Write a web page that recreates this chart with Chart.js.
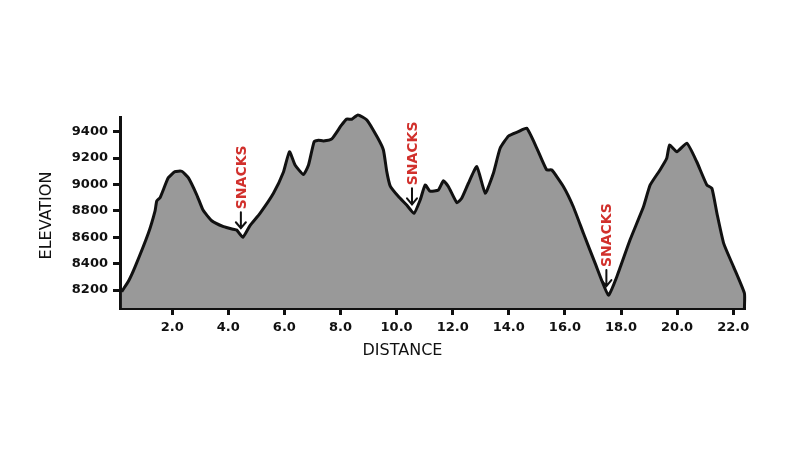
<!DOCTYPE html>
<html>
<head>
<meta charset="utf-8">
<script src="https://cdn.jsdelivr.net/npm/chart.js@4/dist/chart.umd.min.js"></script>
<style>
    body { margin: 0; background: #fff; }
    #wrap { width: 800px; height: 450px; }
</style>
</head>
<body>
<div id="wrap"><canvas id="profileChart" width="800" height="450"></canvas></div>
<script>
// Trail profile (distance in miles, elevation in feet)
const distance = [
    0.20, 0.45, 0.68, 1.15, 1.39, 1.45, 1.57, 1.86, 2.10, 2.34, 2.58, 2.88, 3.10, 3.41, 3.83, 4.18, 4.30, 4.52,
    4.78, 5.13, 5.61, 5.96, 6.18, 6.38, 6.68, 6.86, 7.06, 7.21, 7.39, 7.69, 8.02, 8.22, 8.40, 8.62, 8.94,
    9.32, 9.53, 9.65, 9.77, 10.06, 10.36, 10.62, 10.84, 11.02, 11.19, 11.49, 11.67, 11.85, 12.15, 12.32,
    12.56, 12.86, 13.16, 13.45, 13.69, 13.99, 14.34, 14.64, 15.00, 15.35, 15.53, 15.95, 16.30, 16.66,
    17.08, 17.55, 17.85, 18.32, 18.80, 19.04, 19.39, 19.63, 19.73, 19.99, 20.35, 20.70, 21.06, 21.24,
    21.42, 21.66, 22.01, 22.40, 22.40
];
const elevation = [
    8187, 8270, 8377, 8630, 8800, 8875, 8900, 9050, 9097, 9100, 9050, 8920, 8806, 8725, 8680, 8660, 8655, 8600,
    8690, 8781, 8933, 9090, 9248, 9147, 9075, 9147, 9324, 9335, 9330, 9345, 9445, 9495, 9494, 9527, 9489,
    9355, 9261, 9097, 8990, 8910, 8844, 8781, 8882, 8996, 8950, 8958, 9028, 8983, 8862, 8895,
    9009, 9135, 8933, 9085, 9274, 9367, 9400, 9426, 9274, 9110, 9110, 8983, 8831, 8630,
    8402, 8162, 8301, 8579, 8831, 8996, 9110, 9198, 9299, 9248, 9312, 9172, 8996, 8971,
    8781, 8554, 8377, 8175, 8064
];

const xTicks = [2, 4, 6, 8, 10, 12, 14, 16, 18, 20, 22];
const yTicks = [8200, 8400, 8600, 8800, 9000, 9200, 9400];

// Snack stops (bottom of each valley)
const snackDistance = [4.52, 10.62, 17.55];
const snackElevation = [8600, 8781, 8162];
const snackLabel = 'SNACKS';

const INK = '#111';
const RED = '#d1302c';

const points = distance.map((d, i) => ({ x: d, y: elevation[i] }));

// draws the SNACKS notes and the axis titles
const notesPlugin = {
    id: 'notes',
    afterDatasetsDraw(chart) {
        const { ctx, chartArea, scales } = chart;
        ctx.save();

        snackDistance.forEach((d, i) => {
            const px = scales.x.getPixelForValue(d) - 2;
            const py = scales.y.getPixelForValue(snackElevation[i]);
            const tip = py - 9;
            const tail = tip - 16;

            ctx.strokeStyle = INK;
            ctx.lineWidth = 2;
            ctx.lineCap = 'round';
            ctx.beginPath();
            ctx.moveTo(px, tail);
            ctx.lineTo(px, tip);
            ctx.moveTo(px - 5, tip - 6);
            ctx.lineTo(px, tip);
            ctx.lineTo(px + 5, tip - 6);
            ctx.stroke();

            ctx.translate(px, tail - 3);
            ctx.rotate(-Math.PI / 2);
            ctx.fillStyle = RED;
            ctx.font = 'bold 14px "DejaVu Sans"';
            ctx.textAlign = 'left';
            ctx.textBaseline = 'middle';
            ctx.fillText(snackLabel, 0, 1);
            ctx.setTransform(1, 0, 0, 1, 0, 0);
        });

        ctx.fillStyle = INK;
        ctx.font = '16px "DejaVu Sans"';
        ctx.textAlign = 'center';
        ctx.textBaseline = 'middle';
        ctx.fillText('DISTANCE', (chartArea.left + chartArea.right) / 2 - 30, chartArea.bottom + 43);

        ctx.translate(chartArea.left - 73, (chartArea.top + chartArea.bottom) / 2 + 3);
        ctx.rotate(-Math.PI / 2);
        ctx.fillText('ELEVATION', 0, 0);
        ctx.restore();
    }
};

const axisStyle = {
    border: { display: true, color: INK, width: 3 },
    grid: { drawOnChartArea: false, drawTicks: true, tickLength: 7, tickWidth: 3, tickColor: INK, color: INK },
    z: 1
};

new Chart(document.getElementById('profileChart').getContext('2d'), {
    type: 'line',
    data: {
        datasets: [{
            label: 'Elevation',
            data: points,
            borderColor: INK,
            borderWidth: 3,
            borderJoinStyle: 'round',
            backgroundColor: '#999999',
            fill: 'start',
            pointRadius: 0,
            tension: 0.15,
            clip: false
        }]
    },
    options: {
        responsive: false,
        animation: false,
        devicePixelRatio: 1,
        layout: { padding: { left: 0, top: 117, right: 55, bottom: 0 } },
        plugins: {
            legend: { display: false },
            tooltip: { enabled: false }
        },
        scales: {
            x: {
                ...axisStyle,
                type: 'linear',
                min: 0.14,
                max: 22.42,
                afterBuildTicks: s => { s.ticks = xTicks.map(v => ({ value: v })); },
                afterFit: s => { s.height = 142; },
                ticks: {
                    color: INK,
                    padding: 5,
                    maxRotation: 0,
                    font: { family: 'DejaVu Sans', size: 13, weight: 'bold' },
                    callback: v => v.toFixed(1)
                }
            },
            y: {
                ...axisStyle,
                min: 8064,
                max: 9511,
                afterBuildTicks: s => { s.ticks = yTicks.map(v => ({ value: v })); },
                afterFit: s => { s.width = 120; },
                ticks: {
                    color: INK,
                    padding: 5,
                    font: { family: 'DejaVu Sans', size: 13, weight: 'bold' },
                    callback: v => String(v)
                }
            }
        }
    },
    plugins: [notesPlugin]
});
</script>
</body>
</html>
